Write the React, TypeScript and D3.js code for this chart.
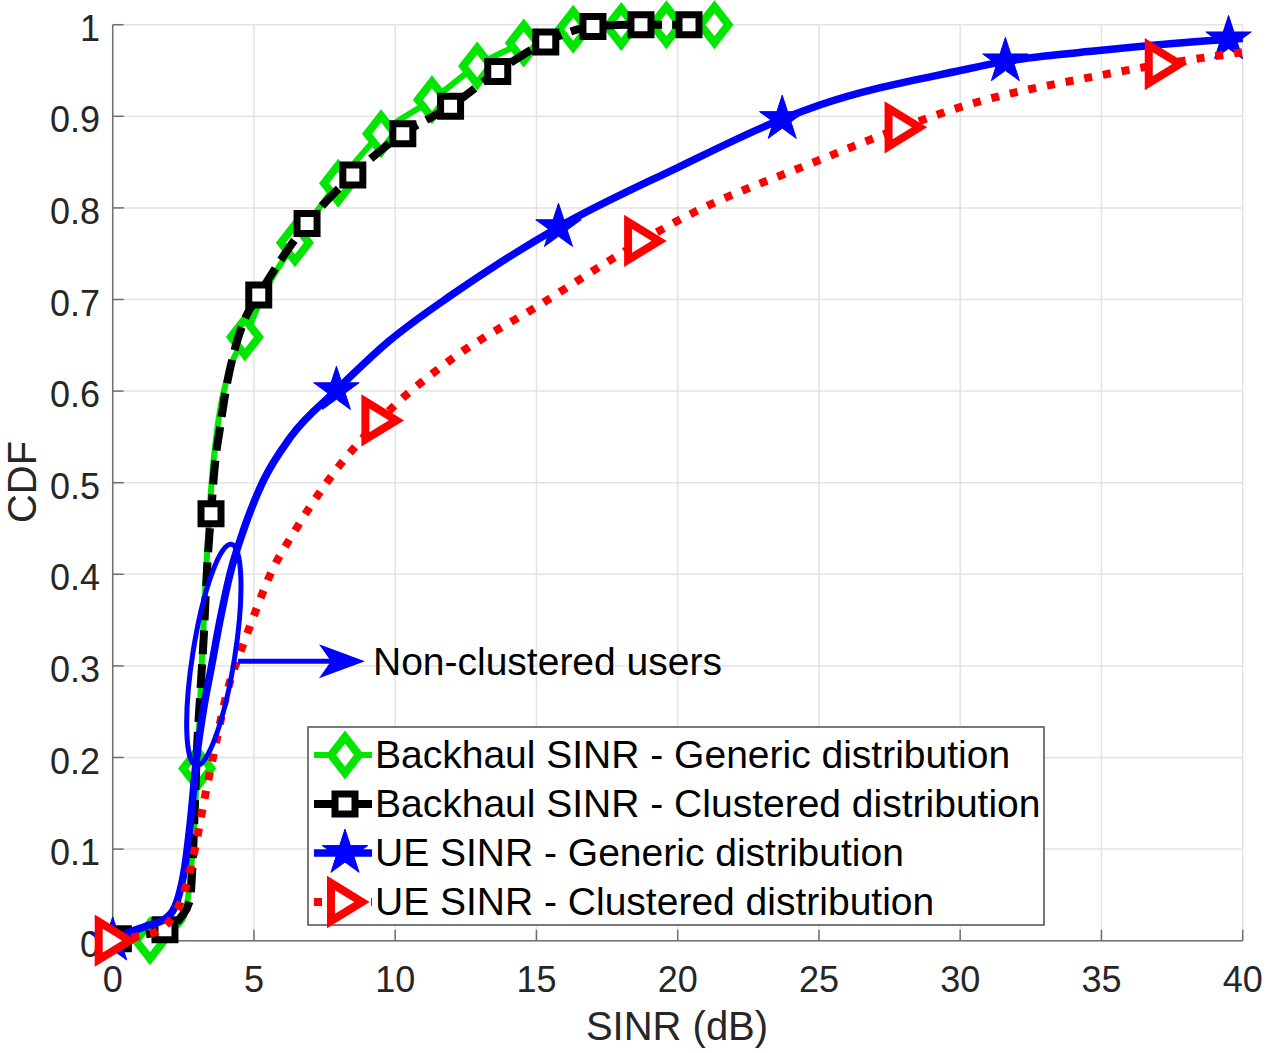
import * as d3 from "d3";

// Backhaul SINR - generic (green)
const bgX = [0, 1.32, 2.0, 2.5, 2.75, 2.99, 3.15, 3.3, 3.5, 3.75, 4.1, 4.68, 5.4, 6.45, 7.98, 9.5, 11.3, 12.9, 14.55, 16.3, 18, 19.6, 21.3];
const bgY = [0, 0, 0.01, 0.025, 0.07, 0.188, 0.3, 0.4, 0.5, 0.57, 0.62, 0.659, 0.71, 0.762, 0.827, 0.881, 0.918, 0.955, 0.98, 0.995, 0.998, 1, 1];
const bgMarkX = [1.32, 2.99, 4.68, 6.45, 7.98, 9.5, 11.3, 12.9, 14.55, 16.3, 18, 19.6, 21.3];

// Backhaul SINR - clustered (black)
const bcX = [0, 0.2, 1.0, 1.85, 2.4, 2.74, 2.82, 2.9, 2.97, 3.1, 3.22, 3.33, 3.48, 3.62, 3.8, 4.0, 4.36, 4.7, 5.17, 6.88, 8.5, 10.27, 11.96, 13.63, 15.33, 17, 18.7, 20.4];
const bcY = [0, 0.002, 0.006, 0.012, 0.025, 0.045, 0.08, 0.14, 0.2, 0.27, 0.33, 0.4, 0.466, 0.52, 0.56, 0.6, 0.65, 0.68, 0.705, 0.783, 0.836, 0.881, 0.911, 0.949, 0.981, 0.998, 1, 1];
const bcMarkX = [0.2, 1.85, 3.48, 5.17, 6.88, 8.5, 10.27, 11.96, 13.63, 15.33, 17, 18.7, 20.4];

// UE SINR - generic (blue)
const ugX = [0, 0.5, 1.2, 1.9, 2.3, 2.55, 2.75, 2.97, 3.2, 3.5, 3.8, 4.15, 4.65, 5.3, 6.3, 7.92, 9.8, 12, 13.7, 15.78, 20, 23.7, 25, 30, 31.6, 35, 39.5, 40];
const ugY = [0, 0.008, 0.016, 0.025, 0.045, 0.08, 0.13, 0.2, 0.25, 0.3, 0.35, 0.4, 0.45, 0.5, 0.55, 0.601, 0.655, 0.705, 0.74, 0.779, 0.844, 0.897, 0.912, 0.95, 0.96, 0.972, 0.984, 0.985];
const ugMarkX = [0, 7.92, 15.78, 23.7, 31.6, 39.5];

// UE SINR - clustered (red)
const ucX = [0, 0.8, 1.56, 2.14, 2.5, 2.91, 3.25, 3.55, 4.07, 4.59, 4.94, 5.58, 6.5, 7.57, 9.44, 12, 15, 18.74, 20, 25, 27.96, 30, 35, 37.17, 40];
const ucY = [0, 0.004, 0.01, 0.027, 0.05, 0.1, 0.155, 0.2, 0.274, 0.321, 0.35, 0.4, 0.45, 0.5, 0.568, 0.635, 0.692, 0.764, 0.786, 0.852, 0.888, 0.91, 0.945, 0.957, 0.97];
const ucMarkX = [0, 9.44, 18.74, 27.96, 37.17];

const xTicks = [0, 5, 10, 15, 20, 25, 30, 35, 40];
const yTicks = [0, 0.1, 0.2, 0.3, 0.4, 0.5, 0.6, 0.7, 0.8, 0.9, 1];
const yTickLabels = ["0", "0.1", "0.2", "0.3", "0.4", "0.5", "0.6", "0.7", "0.8", "0.9", "1"];

const legendNames = [
  "Backhaul SINR - Generic distribution",
  "Backhaul SINR - Clustered distribution",
  "UE SINR - Generic distribution",
  "UE SINR - Clustered distribution",
];

const FONT = "'Liberation Sans', Arial, sans-serif";
const W = 1270;
const H = 1053;

const x = d3.scaleLinear().domain([0, 40]).range([112.7, 1242.7]);
const y = d3.scaleLinear().domain([0, 1]).range([940.7, 24.7]);

const line = d3
  .line<[number, number]>()
  .x((d) => x(d[0]))
  .y((d) => y(d[1]))
  .curve(d3.curveMonotoneX);

const zip = (xs: number[], ys: number[]) => xs.map((v, i) => [v, ys[i]] as [number, number]);
// marker y
const onCurve = (xs: number[], ys: number[]) => (v: number) => {
  const i = xs.indexOf(v);
  if (i >= 0) return ys[i];
  return d3.scaleLinear().domain(xs).range(ys)(v);
};

const diamond = "M0,-18L14,0L0,18L-14,0Z";
const square = "M-10,-10H10V10H-10Z";
const triangle = "M-14,-19L17,0L-14,19Z";
const star = d3.symbol(d3.symbolStar, 640)()!;

const series = [
  { xs: bgX, ys: bgY, mx: bgMarkX, color: "#00e600", width: 6, dash: "none", marker: diamond, filled: false, mstroke: 8 },
  { xs: bcX, ys: bcY, mx: bcMarkX, color: "#000000", width: 8, dash: "24 10", marker: square, filled: false, mstroke: 7 },
  { xs: ugX, ys: ugY, mx: ugMarkX, color: "#0000ff", width: 7.5, dash: "none", marker: star, filled: true, mstroke: 1 },
  { xs: ucX, ys: ucY, mx: ucMarkX, color: "#ff0000", width: 8, dash: "8 11", marker: triangle, filled: false, mstroke: 8 },
];

// annotation, in data units
const ellipseC = [3.58, 0.312];
const arrowFrom = [4.44, 0.305];
const arrowTo = [8.93, 0.305];
const noteText = "Non-clustered users";

export default function App() {
  const [x0, x1] = x.range();
  const [y0, y1] = y.range();
  const ax = x(arrowFrom[0]);
  const bx = x(arrowTo[0]);
  const ay = y(arrowFrom[1]);

  const legX = 308;
  const legY = 727;
  const rowH = 49;

  return (
    <svg
      width={W}
      height={H}
      style={{ position: "absolute", left: 0, top: 0, background: "#fff" }}
      fontFamily={FONT}
    >
      <rect width={W} height={H} fill="#fff" />
      {/* grid */}
      <g stroke="#e3e3e3" strokeWidth={1.5}>
        {xTicks.map((t) => (
          <line key={"gx" + t} x1={x(t)} x2={x(t)} y1={y0} y2={y1} />
        ))}
        {yTicks.map((t) => (
          <line key={"gy" + t} x1={x0} x2={x1} y1={y(t)} y2={y(t)} />
        ))}
      </g>
      {/* axes */}
      <g stroke="#707070" strokeWidth={1.5}>
        <line x1={x0} x2={x1} y1={y0} y2={y0} />
        <line x1={x0} x2={x0} y1={y0} y2={y1} />
        {xTicks.map((t) => (
          <line key={"tx" + t} x1={x(t)} x2={x(t)} y1={y0} y2={y0 - 11} />
        ))}
        {yTicks.map((t) => (
          <line key={"ty" + t} x1={x0} x2={x0 + 11} y1={y(t)} y2={y(t)} />
        ))}
      </g>
      <g fill="#262626" fontSize={36}>
        {xTicks.map((t) => (
          <text key={"lx" + t} x={x(t)} y={992} textAnchor="middle">
            {t}
          </text>
        ))}
        {yTicks.map((t, i) => (
          <text key={"ly" + t} x={100} y={y(t) + 16} textAnchor="end">
            {yTickLabels[i]}
          </text>
        ))}
      </g>
      <text x={677} y={1040} textAnchor="middle" fontSize={40} fill="#262626">
        SINR (dB)
      </text>
      <text transform="translate(36,482) rotate(-90)" textAnchor="middle" fontSize={40} fill="#262626">
        CDF
      </text>

      {/* series */}
      {series.map((s, k) => {
        const f = onCurve(s.xs, s.ys);
        return (
          <g key={"s" + k}>
            <path
              d={line(zip(s.xs, s.ys))!}
              fill="none"
              stroke={s.color}
              strokeWidth={s.width}
              strokeDasharray={s.dash}
            />
            {s.mx.map((m, j) => (
              <path
                key={j}
                d={s.marker}
                transform={`translate(${x(m)},${y(f(m))})`}
                fill={s.filled ? s.color : "#fff"}
                stroke={s.color}
                strokeWidth={s.mstroke}
                strokeLinejoin="miter"
              />
            ))}
          </g>
        );
      })}

      {/* annotation */}
      <ellipse
        cx={x(ellipseC[0])}
        cy={y(ellipseC[1])}
        rx={21}
        ry={112}
        transform={`rotate(9,${x(ellipseC[0])},${y(ellipseC[1])})`}
        fill="none"
        stroke="#0000ff"
        strokeWidth={5}
      />
      <line x1={ax} x2={bx - 30} y1={ay} y2={ay} stroke="#0000ff" strokeWidth={5} />
      <path
        d={`M${bx},${ay}L${bx - 46},${ay - 17}L${bx - 34},${ay}L${bx - 46},${ay + 17}Z`}
        fill="#0000ff"
      />
      <text x={bx + 8} y={ay + 14} fontSize={39} fill="#000">
        {noteText}
      </text>

      {/* legend */}
      <rect x={legX} y={legY} width={736} height={198} fill="#fff" stroke="#4d4d4d" strokeWidth={1.5} />
      {series.map((s, k) => {
        const cy = legY + 28 + k * rowH;
        return (
          <g key={"lg" + k}>
            <line
              x1={legX + 6}
              x2={legX + 64}
              y1={cy}
              y2={cy}
              stroke={s.color}
              strokeWidth={s.width}
              strokeDasharray={s.dash}
            />
            <path
              d={s.marker}
              transform={`translate(${legX + 37},${cy})`}
              fill={s.filled ? s.color : "#fff"}
              stroke={s.color}
              strokeWidth={s.mstroke}
            />
            <text x={legX + 67} y={cy + 13} fontSize={39} fill="#000">
              {legendNames[k]}
            </text>
          </g>
        );
      })}
    </svg>
  );
}
